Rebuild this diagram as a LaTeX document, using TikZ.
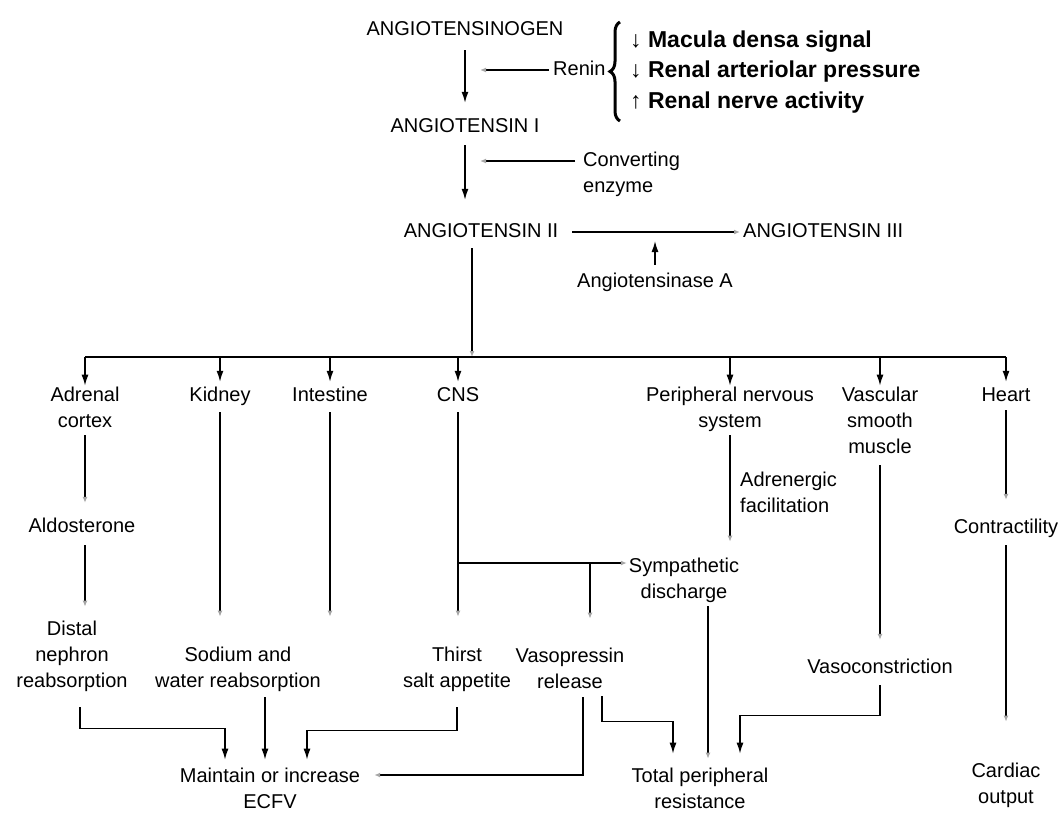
\documentclass[tikz,border=0pt]{standalone}
\usepackage{fontspec}
\setmainfont{Liberation Sans}
\usetikzlibrary{arrows.meta,decorations.pathreplacing,calc}
\begin{document}
\begin{tikzpicture}[x=1pt,y=-1pt,
  every node/.style={font=\fontsize{20}{26}\selectfont, inner sep=0pt, align=center,
    execute at begin node=\strut, execute at end node=\strut},
  blk/.style={anchor=west, font=\fontsize{23}{26}\selectfont\bfseries},
  ln/.style={line width=1.4pt, draw=black},
  sa/.style={ln, -{Latex[length=11pt,width=7pt]}},
  fa/.style={ln, -{Latex[length=6pt,width=5pt,color=gray!70]}},
]
\useasboundingbox (0,0) rectangle (1063,814);

% top chain
\node (ang0) at (465,30) {ANGIOTENSINOGEN};
\node (ang1) at (465,127) {ANGIOTENSIN I};
\node (ang2) at (481,232) {ANGIOTENSIN II};
\node[anchor=west] (ang3) at (743,232) {ANGIOTENSIN III};
\node[anchor=west] (renin) at (553,70) {Renin};
\node[anchor=west, align=left] (conv) at (583,176) {Converting\\enzyme};
\node (ase) at (655,282) {Angiotensinase A};
\node[blk] (mac) at (630,42) {↓ Macula densa signal};
\node[blk] (ren) at (630,72) {↓ Renal arteriolar pressure};
\node[blk] (nerve) at (630,103) {↑ Renal nerve activity};
\coordinate (brb) at (620,121);
\coordinate (brt) at (620,22);
\draw[line width=3pt, decorate, decoration={brace, amplitude=10pt}] (brb) -- (brt);

\draw[sa, shorten <=7pt, shorten >=11pt] (ang0.south) -- (ang1.north);
\draw[sa, shorten <=5pt, shorten >=19pt] (ang1.south) -- (ang1.south |- ang2.north);
\draw[fa, shorten <=4pt, shorten >=15pt] (renin.west) -- (renin.west -| ang0.south);
\coordinate (cw) at ([yshift=15pt]conv.west);
\draw[fa, shorten <=8pt, shorten >=15pt] (cw) -- (cw -| ang1.south);
\draw[fa, shorten <=14pt, shorten >=3pt] (ang2.east) -- (ang3.west);
\draw[sa, shorten <=4pt, shorten >=9pt] (ase.north) -- (ase.north |- ang2);

% first level targets
\node (adr) at (85,411) {Adrenal\\cortex};
\node (kid) at (220,396) {Kidney};
\node (int) at (330,396) {Intestine};
\node (cns) at (458,396) {CNS};
\node (pns) at (730,411) {Peripheral nervous\\system};
\node (vsm) at (880,424) {Vascular\\smooth\\muscle};
\node (heart) at (1006,396) {Heart};

\coordinate (bt) at (472,357);
\draw[fa, shorten <=3pt] (ang2.south -| bt) -- (bt);
\draw[line width=1.8pt] (adr |- bt) -- (heart |- bt);
\foreach \n in {adr,kid,int,cns,pns,vsm,heart}
  \draw[sa, shorten >=1pt] (\n |- bt) -- (\n.north);

% second level
\node (aldo) at (82,527) {Aldosterone};
\node (distal) at (72,658) {Distal\\nephron\\reabsorption};
\node (sodium) at (238,671) {Sodium and\\water reabsorption};
\node (thirst) at (457,671) {Thirst\\salt appetite};
\node (vaso) at (570,672) {Vasopressin\\release};
\node (symp) at (684,582) {Sympathetic\\discharge};
\node[anchor=west, align=left] (adrf) at (740,496) {Adrenergic\\facilitation};
\node (vcon) at (880,668) {Vasoconstriction};
\node (contr) at (1006,528) {Contractility};
\node (cardiac) at (1006,787) {Cardiac\\output};
\node (ecfv) at (270,792) {Maintain or increase\\ECFV};
\node (tpr) at (700,792) {Total peripheral\\resistance};

\draw[fa, shorten <=0pt, shorten >=11pt] (adr.south) -- (adr.south |- aldo.north);
\draw[fa, shorten <=5pt, shorten >=14pt] (aldo.south -| adr) -- (adr |- distal.north);
\draw[fa, shorten <=3pt, shorten >=30pt] (kid.south) -- (kid.south |- sodium.north);
\draw[fa, shorten <=3pt, shorten >=30pt] (int.south) -- (int.south |- sodium.north);
\draw[fa, shorten <=3pt, shorten >=30pt] (cns.south) -- (cns.south |- thirst.north);
\coordinate (cj) at (458,563);
\draw[fa, shorten >=2pt] (cj) -- (symp.west |- cj);
\coordinate (vb) at (590,563);
\draw[fa, shorten >=29pt] (vb) -- (vb |- vaso.north);
\draw[fa, shorten <=0pt, shorten >=16pt] (pns.south) -- (pns.south |- symp.north);
\draw[fa, shorten <=4pt, shorten >=15pt] (vsm.south) -- (vsm.south |- vcon.north);
\draw[fa, shorten <=1pt, shorten >=15pt] (heart.south) -- (heart.south |- contr.north);
\draw[fa, shorten <=4pt, shorten >=41pt] (contr.south) -- (contr.south |- cardiac.north);

\coordinate (tx) at (708,700);
\draw[fa, shorten <=0pt, shorten >=9pt] (symp.south -| tx) -- (tx |- tpr.north);
\draw[sa, shorten <=4pt, shorten >=14pt] (vcon.south) -- ++(0,34) -| ([xshift=40pt]tpr.north);
\draw[sa, shorten <=0pt, shorten >=14pt] ([xshift=32pt]vaso.south) -- ++(0,25) -| ([xshift=-27pt]tpr.north);

\coordinate (e1) at ([xshift=-45pt]ecfv.north);
\coordinate (e2) at ([xshift=-5pt]ecfv.north);
\coordinate (e3) at ([xshift=37pt]ecfv.north);
\coordinate (ee) at ([yshift=17pt]ecfv.east);
\draw[sa, shorten <=12pt, shorten >=8pt] ([xshift=8pt]distal.south) -- ++(0,33) -| (e1);
\draw[sa, shorten <=2pt, shorten >=8pt] (e2 |- sodium.south) -- (e2);
\draw[sa, shorten <=12pt, shorten >=8pt] (thirst.south) -- ++(0,35) -| (e3);
\draw[fa, shorten <=1pt, shorten >=14pt] ([xshift=13pt]vaso.south) |- (ee);
\end{tikzpicture}
\end{document}
